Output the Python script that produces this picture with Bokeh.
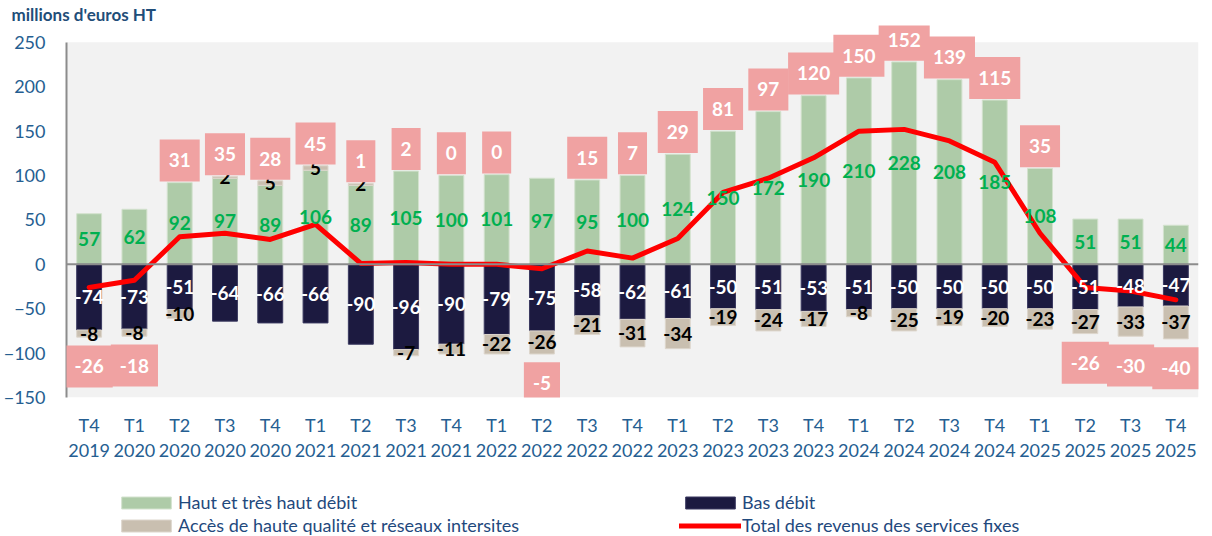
from bokeh.plotting import figure
from bokeh.layouts import column
from bokeh.models import (ColumnDataSource, Label, Legend, LegendItem, Span, FactorRange,
                          Range1d, FixedTicker, BoxAnnotation)
from bokeh.core.properties import value
from bokeh.embed import file_html
from bokeh.resources import INLINE

# ---------------- data ----------------
quarters = ["T4", "T1", "T2", "T3", "T4", "T1", "T2", "T3", "T4", "T1", "T2", "T3", "T4",
            "T1", "T2", "T3", "T4", "T1", "T2", "T3", "T4", "T1", "T2", "T3", "T4"]
years = ["2019", "2020", "2020", "2020", "2020", "2021", "2021", "2021", "2021",
         "2022", "2022", "2022", "2022", "2023", "2023", "2023", "2023",
         "2024", "2024", "2024", "2024", "2025", "2025", "2025", "2025"]
haut_debit = [57, 62, 92, 97, 89, 106, 89, 105, 100, 101, 97, 95, 100, 124, 150, 172,
              190, 210, 228, 208, 185, 108, 51, 51, 44]
bas_debit = [-74, -73, -51, -64, -66, -66, -90, -96, -90, -79, -75, -58, -62, -61, -50, -51,
             -53, -51, -50, -50, -50, -50, -51, -48, -47]
acces_hq = [-8, -8, -10, 2, 5, 5, 2, -7, -11, -22, -26, -21, -31, -34, -19, -24,
            -17, -8, -25, -19, -20, -23, -27, -33, -37]
total = [-26, -18, 31, 35, 28, 45, 1, 2, 0, 0, -5, 15, 7, 29, 81, 97, 120, 150, 152, 139,
         115, 35, -26, -30, -40]
y_ticks = [-150, -100, -50, 0, 50, 100, 150, 200, 250]
Y_MIN, Y_MAX = -150, 250

# ---------------- styles ----------------
FONT = "Lato"
GREEN = "#AECBA8"
NAVY = "#1C1A40"
BEIGE = "#C9BFB0"
RED = "#FF0000"
PINK = "#F0A2A2"
BLUE_TXT = "#255E91"
LEG_TXT = "#1F497D"

cats = [f"{q}\n{y}" for q, y in zip(quarters, years)]

acc_lo = [h if a > 0 else b + a for h, b, a in zip(haut_debit, bas_debit, acces_hq)]
acc_hi = [h + a if a > 0 else b for h, b, a in zip(haut_debit, bas_debit, acces_hq)]

src = ColumnDataSource(dict(
    x=cats, haut=haut_debit, bas=bas_debit, acc_lo=acc_lo, acc_hi=acc_hi, total=total,
    haut_y=[h / 2 for h in haut_debit],
    bas_y=[b / 2 for b in bas_debit],
    acc_y=[(lo + hi) / 2 for lo, hi in zip(acc_lo, acc_hi)],
    haut_t=[str(v) for v in haut_debit],
    bas_t=[str(v) for v in bas_debit],
    acc_t=[str(v) for v in acces_hq],
))

# main chart; frame extends a little above 250 so the top boxes are not clipped
p = figure(x_range=FactorRange(*cats), y_range=Range1d(Y_MIN, Y_MAX + 19),
           width=1212, height=484, output_backend="svg", toolbar_location=None,
           min_border_left=65, min_border_right=14, min_border_top=24, min_border_bottom=87)
p.background_fill_color = "white"
p.border_fill_color = "white"
p.outline_line_color = None
p.grid.visible = False

plot_bg = BoxAnnotation(bottom=Y_MIN, top=Y_MAX, fill_color="#F2F2F2", fill_alpha=1,
                        line_color=None, level="underlay")
p.add_layout(plot_bg)

BW = 0.55
bar_styles = dict(
    haut=dict(fill_color=GREEN, line_color="#D3E2CE", line_width=1),
    bas=dict(fill_color=NAVY, line_color="#3A3960", line_width=1),
    acces=dict(fill_color=BEIGE, line_color="#DDD6CC", line_width=1),
)
p.vbar(x="x", top="haut", bottom=0, width=BW, source=src, **bar_styles["haut"])
p.vbar(x="x", top=0, bottom="bas", width=BW, source=src, **bar_styles["bas"])
p.vbar(x="x", top="acc_hi", bottom="acc_lo", width=BW, source=src, **bar_styles["acces"])

zero = Span(location=0, dimension="width", line_color="#8C8C8C", line_width=2, level="glyph")
p.add_layout(zero)

line_style = dict(line_width=5, line_color=RED, line_join="round", line_cap="round")
p.line(x="x", y="total", source=src, **line_style)

lbl_kw = dict(text_font=value(FONT), text_font_size="19px", text_font_style="bold",
              text_align="center", text_baseline="middle", source=src)
p.text(x="x", y="haut_y", text="haut_t", text_color="#00B050", **lbl_kw)
p.text(x="x", y="bas_y", text="bas_t", text_color="white", **lbl_kw)
p.text(x="x", y="acc_y", text="acc_t", text_color="black", **lbl_kw)

# total labels (pink boxes) - x in synthetic categorical coordinates (centre = i + 0.5)
for i, (t, h, b, a) in enumerate(zip(total, haut_debit, bas_debit, acces_hq)):
    if t >= 0:
        yy = h + max(a, 0) + 25
    else:
        yy = b + min(a, 0) - 33
    p.add_layout(Label(x=i + 0.5, y=yy, text=str(t), text_font=FONT, text_font_size="19px",
                       text_font_style="bold", text_color="white", text_align="center",
                       text_baseline="middle", background_fill_color=PINK,
                       padding=(9, 14)))

# axes
p.yaxis.ticker = FixedTicker(ticks=y_ticks)
p.yaxis.bounds = (Y_MIN, Y_MAX)
p.yaxis.major_label_text_font = FONT
p.yaxis.major_label_text_font_size = "18px"
p.yaxis.major_label_text_color = BLUE_TXT
p.yaxis.axis_line_color = "#8C8C8C"
p.yaxis.axis_line_width = 2
p.yaxis.major_tick_line_color = None
p.yaxis.minor_tick_line_color = None
p.yaxis.major_label_standoff = 15

p.xaxis.axis_line_color = None
p.xaxis.major_tick_line_color = None
p.xaxis.minor_tick_line_color = None
p.xaxis.major_label_text_font = FONT
p.xaxis.major_label_text_font_size = "18px"
p.xaxis.major_label_text_color = BLUE_TXT
p.xaxis.major_label_text_line_height = 1.15
p.xaxis.major_label_standoff = 10

# title
p.title.text = "millions d'euros HT"
p.title.text_font = FONT
p.title.text_font_size = "17px"
p.title.text_font_style = "bold"
p.title.text_color = "#1F4E79"
p.title.align = "left"
p.title.offset = -55
p.title.standoff = 2

# ---------------- legend strip ----------------
# the same series are drawn here far outside the visible y-range, only to feed the legend
pl = figure(width=1212, height=52, output_backend="svg", toolbar_location=None,
            x_range=FactorRange(*cats), y_range=Range1d(1000, 1001),
            x_axis_location=None, y_axis_location=None,
            min_border=0, min_border_left=0, min_border_right=0,
            min_border_top=0, min_border_bottom=0)
pl.grid.visible = False
pl.outline_line_color = None
pl.background_fill_color = "white"
pl.border_fill_color = "white"
g_h = pl.vbar(x="x", top="haut", bottom=0, width=BW, source=src, **bar_styles["haut"])
g_a = pl.vbar(x="x", top="acc_hi", bottom="acc_lo", width=BW, source=src, **bar_styles["acces"])
g_b = pl.vbar(x="x", top=0, bottom="bas", width=BW, source=src, **bar_styles["bas"])
g_t = pl.line(x="x", y="total", source=src, **line_style)

# column layout aligns this frame with the main frame (left edge at x=65)
legend = Legend(
    items=[LegendItem(label="Haut et très haut débit", renderers=[g_h]),
           LegendItem(label="Accès de haute qualité et réseaux intersites", renderers=[g_a]),
           LegendItem(label="Bas débit", renderers=[g_b]),
           LegendItem(label="Total des revenus des services fixes", renderers=[g_t])],
    orientation="vertical", ncols=2, location=(49, 0),
    background_fill_alpha=0, border_line_color=None, padding=0, margin=0,
    spacing=1, glyph_width=62, glyph_height=15, label_height=22, label_width=500,
    label_standoff=1, label_text_font=FONT, label_text_font_size="18px",
    label_text_color=LEG_TXT)
pl.add_layout(legend)

layout = column(p, pl, spacing=0)
open("out.html", "w").write(file_html(layout, INLINE))
